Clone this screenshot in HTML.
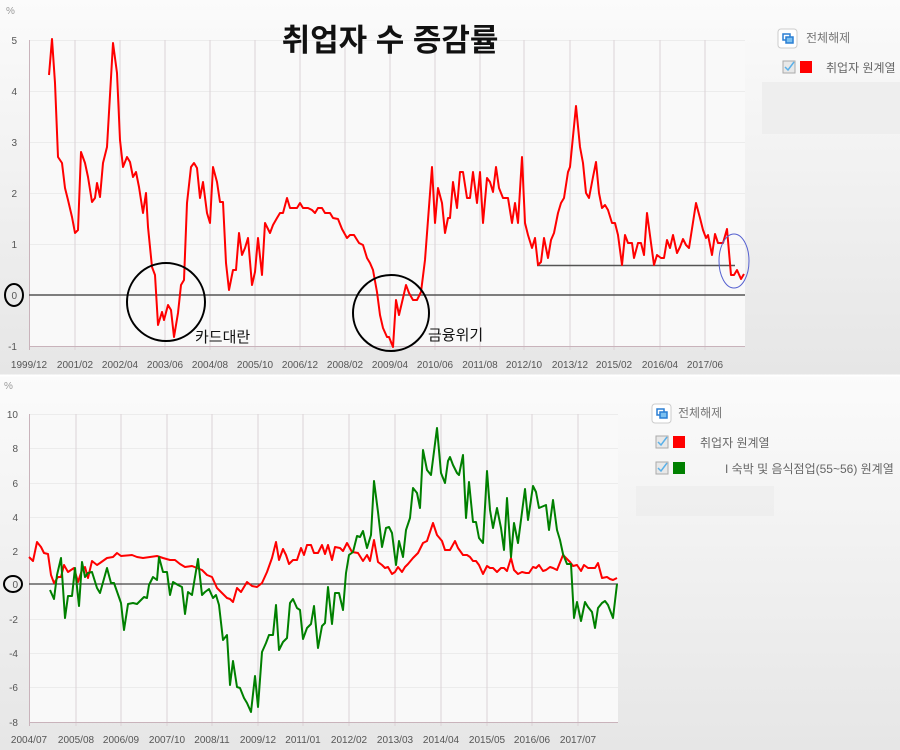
<!DOCTYPE html>
<html><head><meta charset="utf-8"><style>
body{margin:0;width:900px;height:750px;overflow:hidden;background:#fff;}
svg{display:block;font-family:"Liberation Sans","Noto Sans CJK KR",sans-serif;}
</style></head><body>
<svg width="900" height="750" viewBox="0 0 900 750" xmlns="http://www.w3.org/2000/svg">
<defs>
<linearGradient id="bg" x1="0" y1="0" x2="0" y2="1"><stop offset="0" stop-color="#fbfbfb"/><stop offset="1" stop-color="#e6e6e6"/></linearGradient>
</defs>
<rect x="0" y="0" width="900" height="375" fill="url(#bg)"/>
<rect x="0" y="375" width="900" height="375" fill="url(#bg)"/>
<line x1="0" y1="375.5" x2="900" y2="375.5" stroke="#fff" stroke-width="2"/>
<!-- TOP CHART -->
<rect x="29" y="40" width="716" height="306" fill="#f9f9f9"/>
<g stroke="#ececec" stroke-width="1">
<line x1="29" y1="40.5" x2="745" y2="40.5"/><line x1="29" y1="91.5" x2="745" y2="91.5"/><line x1="29" y1="142.5" x2="745" y2="142.5"/><line x1="29" y1="193.5" x2="745" y2="193.5"/><line x1="29" y1="244.5" x2="745" y2="244.5"/>
</g>
<g stroke="#dcd2d6" stroke-width="1">
<line x1="75" y1="40" x2="75" y2="350"/><line x1="120" y1="40" x2="120" y2="350"/><line x1="165" y1="40" x2="165" y2="350"/><line x1="210" y1="40" x2="210" y2="350"/><line x1="255" y1="40" x2="255" y2="350"/><line x1="300" y1="40" x2="300" y2="350"/><line x1="345" y1="40" x2="345" y2="350"/><line x1="390" y1="40" x2="390" y2="350"/><line x1="435" y1="40" x2="435" y2="350"/><line x1="480" y1="40" x2="480" y2="350"/><line x1="524" y1="40" x2="524" y2="350"/><line x1="570" y1="40" x2="570" y2="350"/><line x1="614" y1="40" x2="614" y2="350"/><line x1="660" y1="40" x2="660" y2="350"/><line x1="705" y1="40" x2="705" y2="350"/>
</g>
<line x1="29.5" y1="40" x2="29.5" y2="350" stroke="#c9b3bb"/>
<line x1="29" y1="346.5" x2="745" y2="346.5" stroke="#c9b3bb"/>
<line x1="29" y1="295" x2="745" y2="295" stroke="#555" stroke-width="1.5"/>
<g font-size="10" fill="#555" text-anchor="end">
<text x="17" y="44">5</text><text x="17" y="95">4</text><text x="17" y="146">3</text><text x="17" y="197">2</text><text x="17" y="248">1</text><text x="17" y="299">0</text><text x="17" y="350">-1</text>
</g>
<text x="6" y="14" font-size="10" fill="#999">%</text>
<g font-size="10" fill="#555" text-anchor="middle">
<text x="29" y="368">1999/12</text><text x="75" y="368">2001/02</text><text x="120" y="368">2002/04</text><text x="165" y="368">2003/06</text><text x="210" y="368">2004/08</text><text x="255" y="368">2005/10</text><text x="300" y="368">2006/12</text><text x="345" y="368">2008/02</text><text x="390" y="368">2009/04</text><text x="435" y="368">2010/06</text><text x="480" y="368">2011/08</text><text x="524" y="368">2012/10</text><text x="570" y="368">2013/12</text><text x="614" y="368">2015/02</text><text x="660" y="368">2016/04</text><text x="705" y="368">2017/06</text>
</g>
<line x1="537" y1="265.5" x2="735" y2="265.5" stroke="#555" stroke-width="1.5"/>
<polyline fill="none" stroke="#ff0000" stroke-width="2" stroke-linejoin="round" points="49,75 52,39 55,83 58,157 62,163 65,188 68,200 72,217 75,233 78,230 81,152 85,163 88,177 92,202 95,198 97,183 100,197 103,163 107,147 113,43 117,73 120,140 123,167 127,157 130,162 133,177 136,172 139,187 143,213 146,193 148,227 152,267 155,275 158,325 162,312 164,320 168,305 171,310 174,337 178,313 181,285 184,280 187,203 191,167 194,163 197,168 200,198 203,182 207,213 210,223 213,167 217,182 220,202 223,202 226,263 229,290 233,270 236,270 239,233 242,255 245,248 248,238 252,285 255,272 258,238 262,275 265,223 270,233 273,225 277,218 280,213 283,213 287,198 290,208 293,208 297,208 300,203 303,208 308,208 312,210 315,213 318,208 322,208 325,213 330,213 333,218 338,219 342,229 347,238 350,235 354,235 359,243 363,245 367,258 370,263 373,270 377,292 380,315 383,328 387,337 389,337 393,347 396,300 399,315 403,298 406,285 409,293 413,300 417,300 421,292 425,260 428,220 432,167 435,223 438,188 442,203 445,233 448,218 450,218 453,182 457,208 460,172 463,172 467,198 470,198 473,172 477,203 480,172 483,223 487,178 490,182 493,192 496,167 499,188 503,198 508,198 512,223 515,203 518,223 522,157 525,223 528,235 532,248 535,238 538,265 541,262 544,238 548,258 551,240 554,233 558,213 561,203 564,198 568,172 570,167 576,106 580,147 583,163 586,193 589,198 593,177 596,162 599,193 602,208 605,205 608,210 612,223 615,223 618,235 622,265 625,235 628,243 632,243 634,258 638,243 641,243 644,255 647,213 651,243 654,265 657,255 661,258 664,258 667,240 670,248 673,235 677,253 680,247 683,239 686,245 689,248 696,203 700,218 703,230 706,238 708,235 712,255 715,234 718,243 723,243 727,229 731,275 734,275 737,270 741,279 744,274"/>
<ellipse cx="734" cy="261" rx="15" ry="27" fill="none" stroke="#5560d0" stroke-width="1"/>
<circle cx="166" cy="302" r="39" fill="none" stroke="#000" stroke-width="2"/>
<circle cx="391" cy="313" r="38" fill="none" stroke="#000" stroke-width="2"/>
<ellipse cx="14" cy="295" rx="9" ry="11" fill="none" stroke="#000" stroke-width="2"/>
<text x="195" y="342" font-size="15" fill="#111">카드대란</text>
<text x="428" y="340" font-size="15" fill="#111">금융위기</text>
<text x="390" y="51" font-size="31" font-weight="bold" fill="#111" text-anchor="middle">취업자 수 증감률</text>
<!-- top legend -->
<rect x="778" y="29" width="19" height="19" rx="3" fill="#fff" stroke="#ccc"/>
<rect x="783" y="34" width="7" height="6" fill="#fff" stroke="#2a7fd4" stroke-width="1.5"/>
<rect x="786" y="37" width="7" height="6" fill="#7cc0f0" stroke="#2a7fd4" stroke-width="1.5"/>
<text x="806" y="42" font-size="12" fill="#777">전체해제</text>
<rect x="783" y="61" width="12" height="12" fill="#e8e8e8" stroke="#aaa"/>
<path d="M785 67 l3 3 l6 -8" fill="none" stroke="#5ab0e8" stroke-width="1.5"/>
<rect x="800" y="61" width="12" height="12" fill="#ff0000"/>
<text x="826" y="72" font-size="12" fill="#666">취업자 원계열</text>
<rect x="762" y="82" width="138" height="52" fill="#e9e9e9" opacity="0.6"/>
<!-- BOTTOM CHART -->
<rect x="29" y="414" width="589" height="308" fill="#f9f9f9"/>
<g stroke="#ececec">
<line x1="29" y1="414.5" x2="618" y2="414.5"/><line x1="29" y1="448.5" x2="618" y2="448.5"/><line x1="29" y1="483.5" x2="618" y2="483.5"/><line x1="29" y1="517.5" x2="618" y2="517.5"/><line x1="29" y1="551.5" x2="618" y2="551.5"/><line x1="29" y1="619.5" x2="618" y2="619.5"/><line x1="29" y1="653.5" x2="618" y2="653.5"/><line x1="29" y1="687.5" x2="618" y2="687.5"/>
</g>
<g stroke="#dcd2d6">
<line x1="76" y1="414" x2="76" y2="726"/><line x1="121" y1="414" x2="121" y2="726"/><line x1="167" y1="414" x2="167" y2="726"/><line x1="212" y1="414" x2="212" y2="726"/><line x1="258" y1="414" x2="258" y2="726"/><line x1="303" y1="414" x2="303" y2="726"/><line x1="349" y1="414" x2="349" y2="726"/><line x1="395" y1="414" x2="395" y2="726"/><line x1="441" y1="414" x2="441" y2="726"/><line x1="487" y1="414" x2="487" y2="726"/><line x1="532" y1="414" x2="532" y2="726"/><line x1="578" y1="414" x2="578" y2="726"/>
</g>
<line x1="29.5" y1="414" x2="29.5" y2="726" stroke="#c9b3bb"/>
<line x1="29" y1="722.5" x2="618" y2="722.5" stroke="#c9b3bb"/>
<line x1="29" y1="584" x2="618" y2="584" stroke="#444" stroke-width="1.3"/>
<g font-size="10" fill="#555" text-anchor="end">
<text x="18" y="418">10</text><text x="18" y="452">8</text><text x="18" y="487">6</text><text x="18" y="521">4</text><text x="18" y="555">2</text><text x="18" y="588">0</text><text x="18" y="623">-2</text><text x="18" y="657">-4</text><text x="18" y="691">-6</text><text x="18" y="726">-8</text>
</g>
<text x="4" y="389" font-size="10" fill="#999">%</text>
<g font-size="10" fill="#555" text-anchor="middle">
<text x="29" y="743">2004/07</text><text x="76" y="743">2005/08</text><text x="121" y="743">2006/09</text><text x="167" y="743">2007/10</text><text x="212" y="743">2008/11</text><text x="258" y="743">2009/12</text><text x="303" y="743">2011/01</text><text x="349" y="743">2012/02</text><text x="395" y="743">2013/03</text><text x="441" y="743">2014/04</text><text x="487" y="743">2015/05</text><text x="532" y="743">2016/06</text><text x="578" y="743">2017/07</text>
</g>
<ellipse cx="13" cy="584" rx="9" ry="8" fill="none" stroke="#000" stroke-width="2"/>
<polyline fill="none" stroke="#ff0000" stroke-width="2" stroke-linejoin="round" points="29,557 33,561 37,542 41,547 44,553 48,554 51,575 54,583 58,577 61,577 64,565 68,572 71,570 74,568 78,582 82,570 85,567 88,578 92,561 97,565 100,563 107,558 113,557 117,553 121,556 132,555 137,557 143,558 150,557 157,556 163,558 170,560 175,560 180,564 185,567 192,566 197,568 202,570 207,575 212,577 217,588 222,593 227,598 230,599 233,602 237,588 241,592 247,582 252,586 257,587 262,583 267,572 272,558 276,542 279,560 283,549 286,555 289,564 293,560 297,560 301,548 304,555 307,545 311,545 314,553 318,553 322,545 325,554 328,545 332,560 335,547 340,548 343,551 347,543 352,552 358,553 363,561 367,555 370,561 374,540 378,562 382,565 385,568 388,567 392,574 395,572 398,567 402,572 405,567 408,564 413,558 418,553 423,543 427,541 433,523 437,535 442,541 445,550 450,550 455,541 458,548 463,555 467,555 470,557 473,561 476,561 479,565 483,574 487,566 490,568 493,568 497,572 501,568 504,568 507,571 511,558 514,570 518,574 522,572 526,573 529,573 533,567 536,568 539,565 543,571 546,570 550,567 553,568 557,570 563,555 567,559 570,562 573,566 577,565 581,571 584,565 588,568 595,568 598,563 602,578 607,577 610,579 613,580 617,578"/>
<polyline fill="none" stroke="#008000" stroke-width="2" stroke-linejoin="round" points="50,590 54,599 57,575 61,558 65,618 68,596 72,596 75,568 79,606 82,562 85,577 88,573 92,572 97,588 100,593 107,568 111,583 114,583 121,603 124,630 128,604 133,603 137,604 141,600 144,597 147,598 149,585 153,577 157,580 159,557 163,572 167,572 170,595 173,582 178,585 182,587 185,614 188,592 192,595 198,559 202,595 205,592 209,589 213,598 216,595 219,605 223,640 227,635 230,685 233,661 237,687 240,688 244,698 247,703 251,712 255,676 258,707 262,652 266,643 269,635 273,635 276,605 279,650 283,642 287,638 290,603 293,599 297,608 300,610 303,639 307,628 311,624 314,606 318,648 322,626 325,623 328,587 332,624 335,593 339,593 343,610 346,573 349,555 353,552 357,536 360,537 363,531 367,548 371,535 374,481 378,512 382,547 386,528 389,527 392,533 396,565 399,541 403,557 406,530 410,518 413,488 417,493 420,508 423,450 427,470 431,475 437,428 441,473 445,483 448,461 450,457 453,465 457,473 459,475 463,455 466,518 469,482 473,522 476,522 479,538 483,543 487,471 490,510 493,528 497,508 501,528 504,550 507,498 511,557 514,523 518,543 525,489 528,520 533,486 536,492 539,508 546,505 549,530 553,500 557,530 560,540 563,554 567,564 571,564 574,618 577,602 581,621 585,602 588,607 592,612 595,628 598,608 602,603 605,601 608,605 613,618 617,584"/>
<!-- bottom legend -->
<rect x="652" y="404" width="19" height="19" rx="3" fill="#fff" stroke="#ccc"/>
<rect x="657" y="409" width="7" height="6" fill="#fff" stroke="#2a7fd4" stroke-width="1.5"/>
<rect x="660" y="412" width="7" height="6" fill="#7cc0f0" stroke="#2a7fd4" stroke-width="1.5"/>
<text x="678" y="417" font-size="12" fill="#777">전체해제</text>
<rect x="656" y="436" width="12" height="12" fill="#e8e8e8" stroke="#aaa"/>
<path d="M658 442 l3 3 l6 -8" fill="none" stroke="#5ab0e8" stroke-width="1.5"/>
<rect x="673" y="436" width="12" height="12" fill="#ff0000"/>
<text x="700" y="447" font-size="12" fill="#666">취업자 원계열</text>
<rect x="656" y="462" width="12" height="12" fill="#e8e8e8" stroke="#aaa"/>
<path d="M658 468 l3 3 l6 -8" fill="none" stroke="#5ab0e8" stroke-width="1.5"/>
<rect x="673" y="462" width="12" height="12" fill="#008000"/>
<text x="725" y="473" font-size="12" fill="#666">I 숙박 및 음식점업(55~56) 원계열</text>
<rect x="636" y="486" width="138" height="30" fill="#eaeaea" opacity="0.5"/>
</svg>
</body></html>
